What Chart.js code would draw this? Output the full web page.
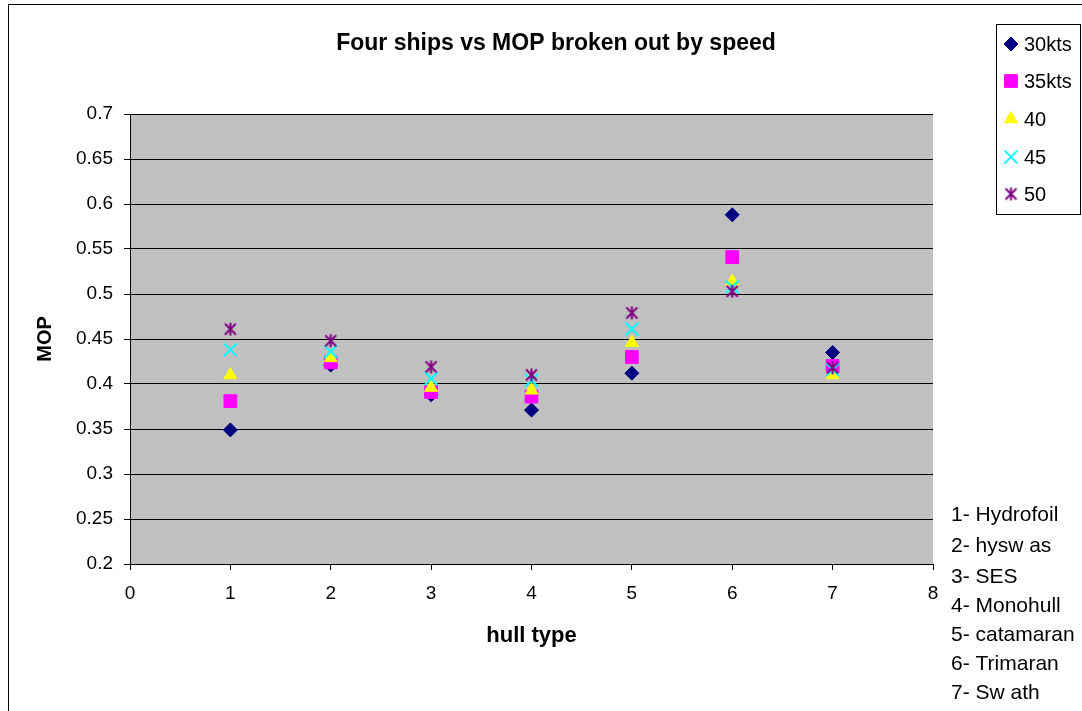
<!DOCTYPE html>
<html>
<head>
<meta charset="utf-8">
<title>Four ships vs MOP broken out by speed</title>
<script src="https://cdn.jsdelivr.net/npm/chart.js@4/dist/chart.umd.min.js"></script>
<style>
    body { margin: 0; background: #ffffff; }
    .chart-container { position: relative; width: 1082px; height: 711px; }
</style>
</head>
<body>
<div class="chart-container">
    <canvas id="myChart"></canvas>
</div>
<script>
// hull type positions on the x axis
const hullTypes = [1, 2, 3, 4, 5, 6, 7];

// MOP values per speed
const mop30 = [0.349, 0.421, 0.388, 0.371, 0.412, 0.588, 0.435];
const mop35 = [0.381, 0.424, 0.391, 0.386, 0.430, 0.541, 0.420];
const mop40 = [0.410, 0.429, 0.396, 0.393, 0.446, 0.514, 0.410];
const mop45 = [0.438, 0.436, 0.406, 0.404, 0.461, 0.508, 0.416];
const mop50 = [0.461, 0.448, 0.419, 0.410, 0.479, 0.503, 0.418];

const seriesLabels = ['30kts', '35kts', '40', '45', '50'];

const xTickLabels = ['0', '1', '2', '3', '4', '5', '6', '7', '8'];
const yTickLabels = ['0.2', '0.25', '0.3', '0.35', '0.4', '0.45', '0.5', '0.55', '0.6', '0.65', '0.7'];

const hullNames = ['1- Hydrofoil', '2- hysw as', '3- SES', '4- Monohull', '5- catamaran', '6- Trimaran', '7- Sw ath'];

const FONT = '"Liberation Sans", Arial, sans-serif';

// asterisk marker (X with a vertical bar)
function makeAsterisk(color) {
    const c = document.createElement('canvas');
    c.width = 15;
    c.height = 15;
    const g = c.getContext('2d');
    g.strokeStyle = color;
    g.lineWidth = 2;
    g.beginPath();
    g.moveTo(2, 2); g.lineTo(13, 13);
    g.moveTo(13, 2); g.lineTo(2, 13);
    g.moveTo(7.5, 1); g.lineTo(7.5, 14);
    g.stroke();
    return c;
}
const asterisk = makeAsterisk('#800080');

function toPoints(values) {
    return values.map((v, i) => ({ x: hullTypes[i], y: v }));
}

const seriesStyles = [
    { color: '#000080', style: 'rectRot', radius: 7, border: 1 },
    { color: '#FF00FF', style: 'rect', radius: 9, border: 1 },
    { color: '#FFFF00', style: 'triangle', radius: 7.5, border: 1 },
    { color: '#00FFFF', style: 'crossRot', radius: 9, border: 2 },
    { color: '#800080', style: asterisk, radius: 7, border: 2 }
];
const seriesData = [mop30, mop35, mop40, mop45, mop50];

const datasets = seriesData.map((vals, i) => ({
    label: seriesLabels[i],
    data: toPoints(vals),
    pointStyle: seriesStyles[i].style,
    pointRadius: seriesStyles[i].radius,
    pointBackgroundColor: seriesStyles[i].color,
    pointBorderColor: seriesStyles[i].color,
    pointBorderWidth: seriesStyles[i].border,
    showLine: false,
    order: 5 - i
}));

// grey plot area, outer frame, title, legend box and hull list
const decorations = {
    id: 'decorations',
    beforeDraw(chart) {
        const { ctx, chartArea } = chart;
        ctx.save();
        ctx.fillStyle = '#C0C0C0';
        ctx.fillRect(chartArea.left, chartArea.top, chartArea.right - chartArea.left, chartArea.bottom - chartArea.top);
        ctx.restore();
    },
    afterDraw(chart) {
        const ctx = chart.ctx;
        ctx.save();

        // outer frame
        ctx.strokeStyle = '#000000';
        ctx.lineWidth = 1;
        ctx.beginPath();
        ctx.moveTo(8.5, 711);
        ctx.lineTo(8.5, 4.5);
        ctx.lineTo(1082, 4.5);
        ctx.stroke();

        // title
        ctx.fillStyle = '#000000';
        ctx.font = 'bold 23px ' + FONT;
        ctx.textAlign = 'center';
        ctx.textBaseline = 'middle';
        ctx.fillText('Four ships vs MOP broken out by speed', 556, 44);

        // legend box
        ctx.fillStyle = '#ffffff';
        ctx.fillRect(996.5, 24.5, 84, 190);
        ctx.strokeStyle = '#000000';
        ctx.strokeRect(996.5, 24.5, 84, 190);
        const legendY = [44, 81, 119, 157, 194];
        ctx.font = '20px ' + FONT;
        ctx.textAlign = 'left';
        ctx.textBaseline = 'middle';
        seriesLabels.forEach((lbl, i) => {
            const s = seriesStyles[i];
            ctx.fillStyle = s.color;
            ctx.strokeStyle = s.color;
            ctx.lineWidth = s.border;
            if (Chart.helpers && Chart.helpers.drawPoint) {
                Chart.helpers.drawPoint(ctx, { pointStyle: s.style, radius: s.radius, rotation: 0, borderWidth: s.border }, 1011, legendY[i]);
            }
            ctx.fillStyle = '#000000';
            ctx.fillText(lbl, 1024, legendY[i] + 1);
        });

        // hull type key
        const hullY = [515, 546, 577, 606, 635, 664, 693];
        ctx.font = '21px ' + FONT;
        ctx.fillStyle = '#000000';
        hullNames.forEach((name, i) => {
            ctx.fillText(name, 951, hullY[i]);
        });

        ctx.restore();
    }
};

function createChart() {
    const ctx = document.getElementById('myChart').getContext('2d');

    return new Chart(ctx, {
        type: 'scatter',
        data: { datasets: datasets },
        options: {
            responsive: true,
            maintainAspectRatio: false,
            animation: false,
            layout: {
                padding: { top: 114, right: 149, bottom: 0, left: 0 }
            },
            plugins: {
                legend: { display: false },
                title: { display: false },
                tooltip: { enabled: false }
            },
            scales: {
                x: {
                    type: 'linear',
                    min: 0,
                    max: 8,
                    afterFit(scale) { scale.height = 147; },
                    ticks: {
                        stepSize: 1,
                        color: '#000000',
                        padding: 12,
                        font: { family: FONT, size: 19 },
                        callback: (v, i) => xTickLabels[i]
                    },
                    grid: {
                        drawOnChartArea: false,
                        drawTicks: true,
                        tickLength: 6,
                        tickColor: '#000000'
                    },
                    border: { display: true, color: '#000000', width: 1 },
                    title: {
                        display: true,
                        text: 'hull type',
                        color: '#000000',
                        font: { family: FONT, size: 22, weight: 'bold' },
                        padding: { top: 0, bottom: 62 }
                    }
                },
                y: {
                    min: 0.2,
                    max: 0.7,
                    afterFit(scale) { scale.width = 130; },
                    ticks: {
                        stepSize: 0.05,
                        color: '#000000',
                        padding: 11,
                        font: { family: FONT, size: 19 },
                        callback: (v, i) => yTickLabels[i]
                    },
                    grid: {
                        color: '#000000',
                        lineWidth: 1,
                        drawTicks: true,
                        tickLength: 6,
                        tickColor: '#000000'
                    },
                    border: { display: true, color: '#000000', width: 1 },
                    title: {
                        display: true,
                        text: 'MOP',
                        color: '#000000',
                        font: { family: FONT, size: 20, weight: 'bold' },
                        padding: { top: 33, bottom: 0 }
                    }
                }
            }
        },
        plugins: [decorations]
    });
}

document.addEventListener('DOMContentLoaded', createChart);
</script>
</body>
</html>
